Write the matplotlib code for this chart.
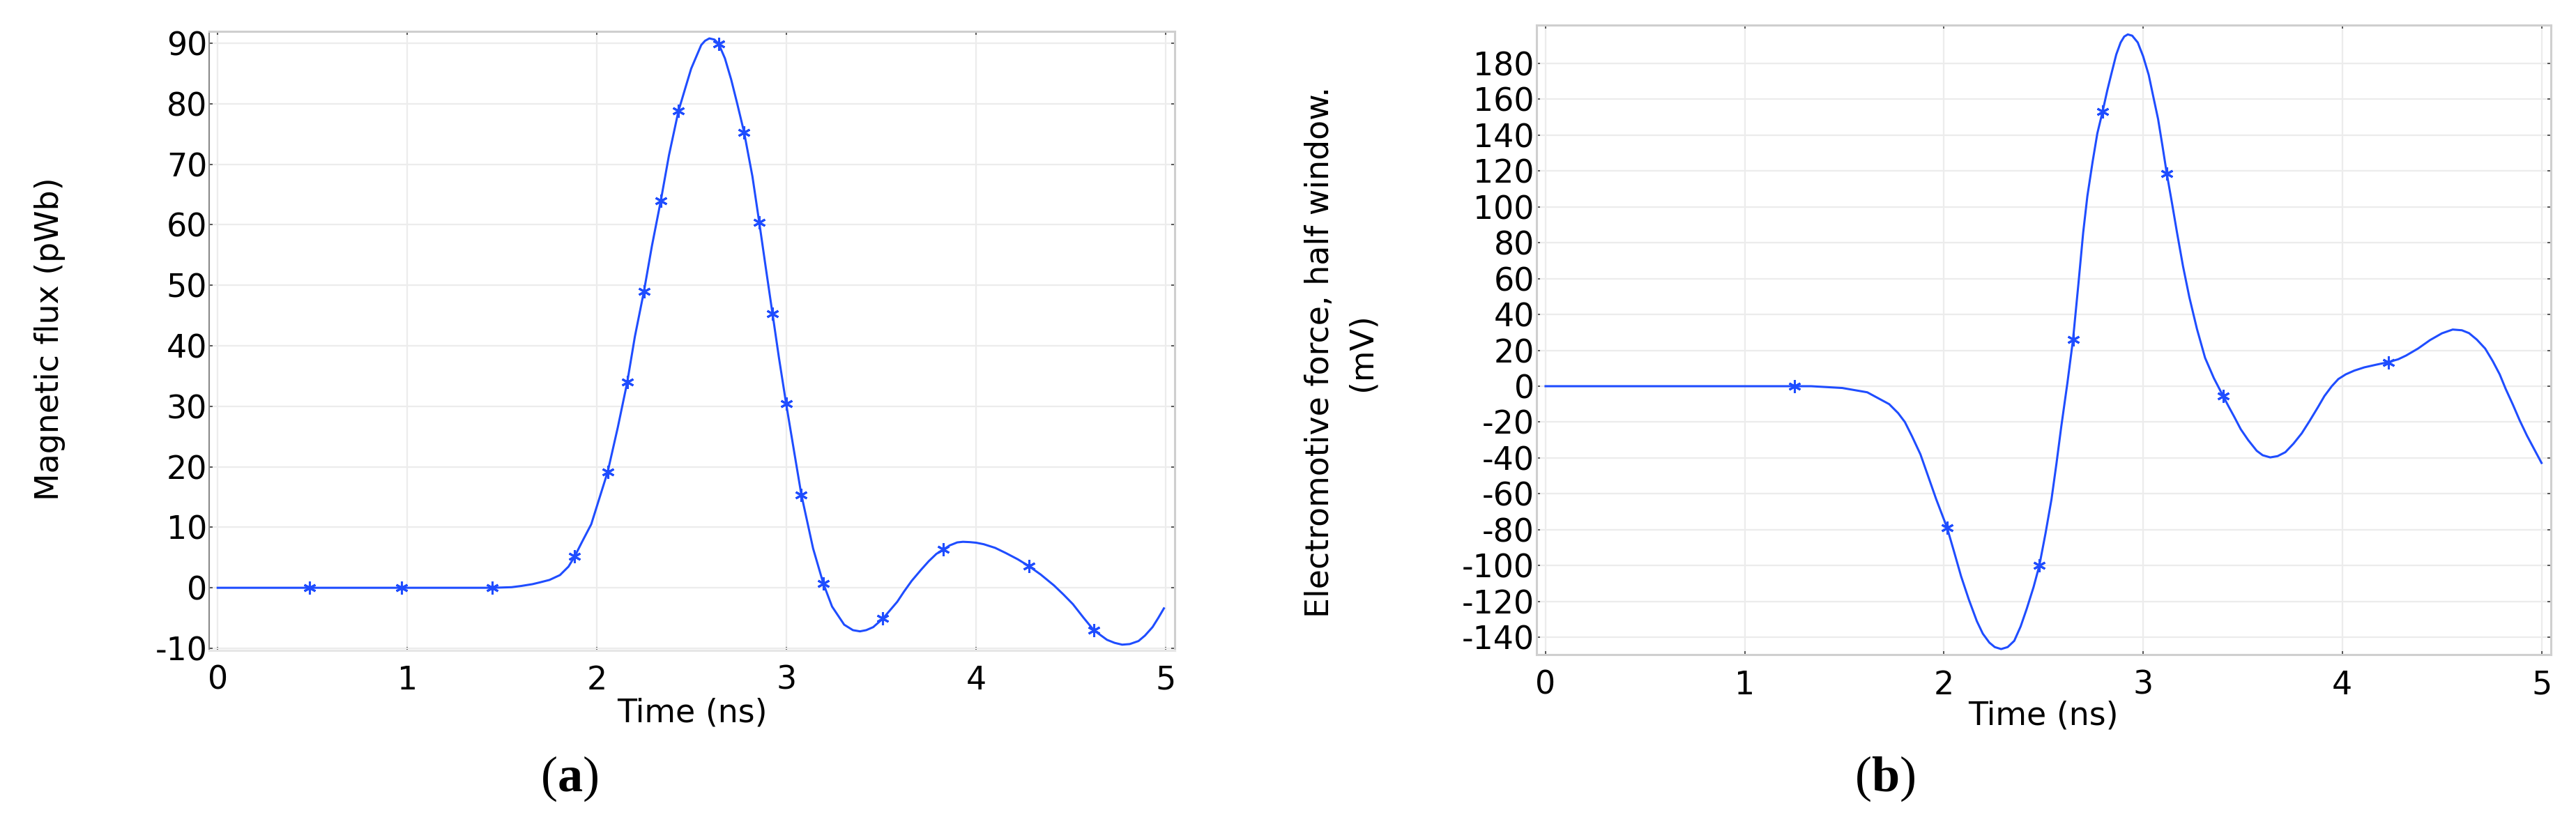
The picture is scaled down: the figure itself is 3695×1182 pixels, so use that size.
import matplotlib
matplotlib.use('Agg')
import matplotlib.pyplot as plt

# ---------------- data ----------------
flux_t = [0.0, 0.485, 0.969, 1.449, 1.55, 1.60, 1.66, 1.70, 1.75, 1.805, 1.85, 1.883,
          1.92, 1.97, 2.01, 2.057, 2.11, 2.16, 2.20, 2.248, 2.29, 2.337, 2.38, 2.43,
          2.47, 2.497, 2.52, 2.55, 2.57, 2.593, 2.62, 2.642, 2.675, 2.708, 2.74, 2.776,
          2.82, 2.856, 2.89, 2.926, 2.96, 2.998, 3.04, 3.078, 3.14, 3.194, 3.24, 3.304,
          3.35, 3.387, 3.42, 3.457, 3.508, 3.584, 3.62, 3.66, 3.71, 3.75, 3.79, 3.826,
          3.86, 3.90, 3.93, 3.966, 4.00, 4.04, 4.10, 4.156, 4.22, 4.277, 4.34, 4.41,
          4.46, 4.51, 4.565, 4.62, 4.69, 4.73, 4.77, 4.81, 4.856, 4.89, 4.93, 4.96, 4.99]
flux_v = [0.0, 0.0, 0.0, 0.0, 0.1, 0.3, 0.6, 0.9, 1.3, 2.1, 3.5, 5.2,
          7.5, 10.5, 14.5, 19.2, 26.5, 34.0, 41.5, 49.0, 56.5, 64.0, 71.5, 78.8,
          83.0, 85.8, 87.5, 89.7, 90.4, 90.8, 90.6, 89.9, 87.5, 84.0, 80.0, 75.3,
          68.0, 60.4, 53.0, 45.3, 38.0, 30.4, 22.5, 15.4, 6.5, 0.7, -3.1, -6.1,
          -7.0, -7.2, -7.0, -6.5, -5.1, -2.3, -0.6, 1.15, 3.0, 4.4, 5.6, 6.3,
          7.0, 7.5, 7.6, 7.55, 7.45, 7.2, 6.6, 5.75, 4.7, 3.6, 2.2, 0.4,
          -1.1, -2.7, -4.9, -7.0, -8.6, -9.1, -9.4, -9.3, -8.8, -7.9, -6.5, -5.0, -3.4]
flux_mark_t = [0.485, 0.969, 1.449, 1.883, 2.057, 2.16, 2.248, 2.337, 2.43, 2.642,
               2.776, 2.856, 2.926, 2.998, 3.078, 3.194, 3.508, 3.826, 4.277, 4.62]
flux_mark_v = [0.0, 0.0, 0.0, 5.2, 19.2, 34.0, 49.0, 64.0, 78.8, 89.9,
               75.3, 60.4, 45.3, 30.4, 15.4, 0.7, -5.1, 6.3, 3.6, -7.0]

emf_t = [0.0, 1.0, 1.333, 1.49, 1.615, 1.725, 1.77, 1.804, 1.84, 1.882, 1.92, 1.961,
         2.016, 2.05, 2.086, 2.125, 2.165, 2.195, 2.228, 2.255, 2.287, 2.32, 2.353,
         2.385, 2.416, 2.45, 2.479, 2.51, 2.54, 2.565, 2.589, 2.62, 2.648, 2.675,
         2.699, 2.72, 2.746, 2.77, 2.796, 2.82, 2.84, 2.865, 2.887, 2.905, 2.923,
         2.945, 2.973, 3.0, 3.028, 3.05, 3.075, 3.097, 3.119, 3.145, 3.17, 3.20,
         3.232, 3.27, 3.311, 3.355, 3.402, 3.43, 3.457, 3.49, 3.527, 3.57, 3.60,
         3.638, 3.675, 3.714, 3.755, 3.796, 3.835, 3.877, 3.91, 3.947, 3.98, 4.017,
         4.06, 4.11, 4.17, 4.23, 4.28, 4.32, 4.38, 4.44, 4.50, 4.554, 4.60, 4.636,
         4.675, 4.717, 4.755, 4.79, 4.82, 4.857, 4.89, 4.927, 5.0]
emf_v = [0.0, 0.0, 0.0, -1.0, -3.4, -10.0, -15.0, -20.0, -28.0, -38.0, -50.0, -63.0,
         -79.0, -92.0, -106.0, -119.0, -131.0, -138.0, -143.0, -145.5, -146.6, -145.5, -142.0,
         -134.0, -124.0, -112.0, -100.0, -82.0, -63.0, -43.0, -22.5, 2.0, 26.0, 57.0,
         85.7, 106.0, 125.0, 141.0, 153.0, 165.0, 174.0, 185.0, 191.7, 195.0, 196.2,
         195.5, 191.7, 184.0, 173.6, 162.0, 149.0, 134.0, 118.4, 102.0, 85.7, 67.0,
         49.6, 32.0, 15.8, 4.5, -5.6, -11.5, -17.0, -24.0, -30.0, -36.0, -38.5,
         -39.7, -39.0, -36.8, -32.0, -26.3, -19.5, -11.8, -5.5, 0.0, 4.0, 6.6,
         8.7, 10.5, 12.0, 13.4, 15.0, 17.1, 21.0, 25.7, 29.5, 31.6, 31.2, 29.6,
         26.0, 21.0, 14.0, 6.6, -1.5, -10.5, -19.0, -27.6, -42.8]
emf_mark_t = [1.249, 2.016, 2.479, 2.648, 2.796, 3.119, 3.402, 4.23]
emf_mark_v = [0.0, -79.0, -100.0, 26.0, 153.0, 118.4, -5.6, 13.4]

x_ticks = [0, 1, 2, 3, 4, 5]
flux_yticks = [-10, 0, 10, 20, 30, 40, 50, 60, 70, 80, 90]
emf_yticks = [-140, -120, -100, -80, -60, -40, -20, 0, 20, 40, 60, 80, 100, 120, 140, 160, 180]

# ---------------- styling ----------------
plt.rcParams['font.family'] = ['DejaVu Sans']
plt.rcParams['axes.unicode_minus'] = False
plt.rcParams['mathtext.fontset'] = 'custom'
plt.rcParams['mathtext.rm'] = 'Liberation Serif'
plt.rcParams['mathtext.bf'] = 'Liberation Serif:bold'

W, H = 3695, 1182
fig = plt.figure(figsize=(W / 100, H / 100), dpi=100)


def rect(l, t, r, b):
    return [l / W, 1 - b / H, (r - l) / W, (b - t) / H]


LINE = '#1f4dff'
TICKFS = 33
LABFS = 33
ASTER = (6, 2, 0)


def style(ax, left_dark):
    for side in ['top', 'right', 'bottom', 'left']:
        ax.spines[side].set_color('#cfcfcf')
        ax.spines[side].set_linewidth(2.2)
    if left_dark:
        ax.spines['left'].set_color('#8a8a8a')
        ax.spines['left'].set_linewidth(1.5)
        ax.spines['bottom'].set_color('#e6e6e6')
    ax.grid(True, color='#ececec', linewidth=1.6)
    ax.set_axisbelow(True)
    ax.tick_params(direction='in', length=3.5, width=1.4, color='#555555',
                   top=True, right=True, labelsize=TICKFS)
    ax.tick_params(axis='y', pad=2)


# ---------------- panel (a) ----------------
ax1 = fig.add_axes(rect(300, 45, 1685, 933))
ax1.plot(flux_t, flux_v, color=LINE, lw=2.2, zorder=3)
ax1.plot(flux_mark_t, flux_mark_v, ls='none', marker=ASTER, ms=13, mew=2.2,
         color=LINE, zorder=4)
ax1.set_xlim(-0.045, 5.047)
ax1.set_ylim(-10.35, 91.96)
ax1.set_xticks(x_ticks)
ax1.set_yticks(flux_yticks)
style(ax1, True)
ax1.tick_params(axis='x', pad=15)
ax1.set_xlabel('Time (ns)', fontsize=LABFS, va='baseline')
ax1.xaxis.set_label_coords(0.5, -(1035 - 933) / 888)
ax1.set_ylabel('Magnetic flux (pWb)', fontsize=LABFS, va='center')
ax1.yaxis.set_label_coords((72 - 300) / 1385, (933 - 486) / 888)

# ---------------- panel (b) ----------------
ax2 = fig.add_axes(rect(2203.5, 36, 3659, 938.5))
ax2.plot(emf_t, emf_v, color=LINE, lw=2.2, zorder=3)
ax2.plot(emf_mark_t, emf_mark_v, ls='none', marker=ASTER, ms=13, mew=2.2,
         color=LINE, zorder=4)
ax2.set_xlim(-0.047, 5.047)
ax2.set_ylim(-149.5, 201.4)
ax2.set_xticks(x_ticks)
ax2.set_yticks(emf_yticks)
style(ax2, False)
ax2.tick_params(axis='x', pad=16)
ax2.set_xlabel('Time (ns)', fontsize=LABFS, va='baseline')
ax2.xaxis.set_label_coords(0.5, -(1040 - 938.5) / 902.5)
ax2.set_ylabel('Electromotive force, half window.\n(mV)', fontsize=LABFS,
               va='center', ha='center', multialignment='center', linespacing=1.45)
ax2.yaxis.set_label_coords((1924 - 2203.5) / 1455.5, (938.5 - 505) / 902.5)

# ---------------- panel labels ----------------
fig.text(817 / W, 1 - 1135 / H, r'$(\mathbf{a})$', fontsize=52, ha='center', va='baseline')
fig.text(2704 / W, 1 - 1135 / H, r'$(\mathbf{b})$', fontsize=52, ha='center', va='baseline')

fig.savefig('out.png', dpi=100, facecolor='white')
